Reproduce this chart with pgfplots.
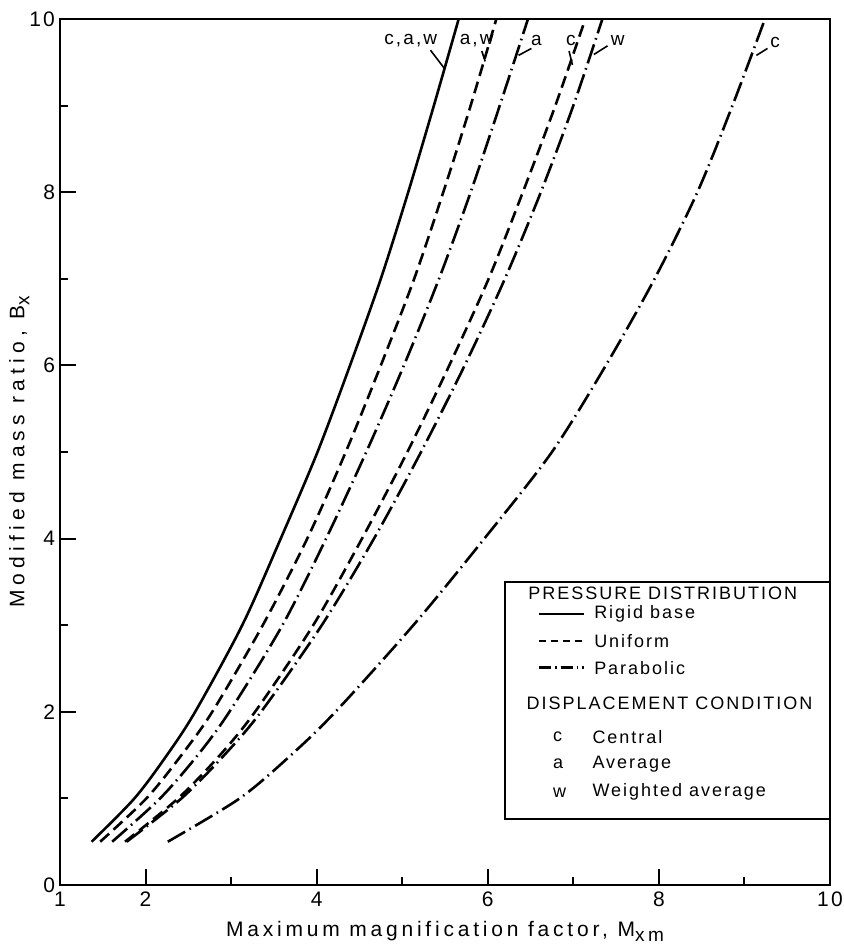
\documentclass[border=0pt]{standalone}
\usepackage{fontspec}
\setmainfont[LetterSpace=11]{Liberation Sans}
\newfontfamily\xlabfont[LetterSpace=18]{Liberation Sans}
\newfontfamily\ylabfont[LetterSpace=25]{Liberation Sans}
\usepackage{pgfplots}
\pgfplotsset{compat=1.18}

\pgfplotstableread{
x y
1.37 0.5
1.87 1
2.25 1.5
2.58 2
3.13 3
3.58 4
4.01 5
4.39 6
4.75 7
5.07 8
5.37 9
5.66 10
}\rigid
\pgfplotstableread{
x y
1.47 0.5
2.01 1
2.42 1.5
2.78 2
3.37 3
3.89 4
4.34 5
4.75 6
5.14 7
5.48 8
5.80 9
6.10 10
}\uniaw
\pgfplotstableread{
x y
1.61 0.5
2.17 1
2.61 1.5
2.98 2
3.60 3
4.11 4
4.58 5
5.02 6
5.43 7
5.80 8
6.14 9
6.47 10
}\paraa
\pgfplotstableread{
x y
1.76 0.5
2.38 1
2.87 1.5
3.28 2
3.96 3
4.53 4
5.06 5
5.55 6
6.01 7
6.41 8
6.79 9
7.14 10
}\unic
\pgfplotstableread{
x y
1.78 0.5
2.42 1
2.92 1.5
3.35 2
4.06 3
4.67 4
5.22 5
5.73 6
6.20 7
6.62 8
7.00 9
7.34 10
}\paraw
\pgfplotstableread{
x y
2.26 0.5
3.10 1
3.70 1.5
4.22 2
5.13 3
5.96 4
6.75 5
7.38 6
7.95 7
8.45 8
8.86 9
9.24 10
}\parac

\tikzset{
  rigidst/.style={black, line width=1.3pt},
  unist/.style={black, line width=1.3pt, dash pattern=on 6pt off 3pt},
  parast/.style={black, line width=1.3pt, dash pattern=on 10pt off 2.5pt on 0.8pt off 2.5pt},
}

\begin{document}
\begin{tikzpicture}
\useasboundingbox (-30pt,-29.5pt) rectangle (391.5pt,442.5pt);
\begin{axis}[
  scale only axis, width=385pt, height=433pt,
  xmin=1, xmax=10, ymin=0, ymax=10,
  xtick={1,2,4,6,8,10}, minor xtick={3,5,7,9},
  ytick={0,2,4,6,8,10}, minor ytick={1,3,5,7,9},
  xtick pos=bottom, ytick pos=left,
  tick align=inside,
  major tick length=8pt, minor tick length=4pt,
  tick style={black, line width=1pt},
  axis line style={line width=1.4pt},
  tick label style={font=\fontsize{10.5}{11}\selectfont},
  yticklabel style={xshift=1pt},
  /pgf/number format/assume math mode=true,
  xlabel={\xlabfont Maximum magnification factor, M\raisebox{-0.45ex}{\fontsize{9.5}{10}\selectfont xm}},
  ylabel={\ylabfont Modified mass ratio, B\raisebox{-0.45ex}{\fontsize{9.5}{10}\selectfont x}},
  xlabel style={font=\fontsize{10.5}{11}\selectfont, at={(axis description cs:0.5,-0.054)}, anchor=center},
  ylabel style={font=\fontsize{10.5}{11}\selectfont, at={(axis description cs:-0.053,0.5)}, anchor=center},
  clip=false,
]
\addplot[rigidst, smooth] table[x=x,y=y] {\rigid};
\addplot[unist, smooth] table[x=x,y=y] {\uniaw};
\addplot[parast, smooth] table[x=x,y=y] {\paraa};
\addplot[unist, smooth] table[x=x,y=y] {\unic};
\addplot[parast, smooth] table[x=x,y=y] {\paraw};
\addplot[parast, smooth] table[x=x,y=y] {\parac};

% curve labels
\begin{scope}[every node/.style={font=\fontsize{9.5}{10}\selectfont, inner sep=0pt}]
\node at (axis cs:5.10,9.75) {c,a,w};
\draw[line width=0.8pt] (axis cs:5.33,9.64) -- (axis cs:5.50,9.42);
\node at (axis cs:5.87,9.75) {a,w};
\draw[line width=0.8pt] (axis cs:5.93,9.63) -- (axis cs:5.97,9.51);
\node at (axis cs:6.57,9.75) {a};
\draw[line width=0.8pt] (axis cs:6.51,9.66) -- (axis cs:6.36,9.58);
\node at (axis cs:6.97,9.75) {c};
\draw[line width=0.8pt] (axis cs:6.95,9.63) -- (axis cs:6.99,9.47);
\node at (axis cs:7.52,9.75) {w};
\draw[line width=0.8pt] (axis cs:7.40,9.69) -- (axis cs:7.24,9.59);
\node at (axis cs:9.36,9.73) {c};
\draw[line width=0.8pt] (axis cs:9.27,9.66) -- (axis cs:9.14,9.58);
\end{scope}

% legend box
\draw[line width=1.2pt] (axis cs:6.2,0.76) rectangle (axis cs:10,3.5);
\begin{scope}[every node/.style={font=\fontsize{9}{10}\selectfont, anchor=west, inner sep=0pt}]
\node at (axis cs:6.47,3.37) {PRESSURE DISTRIBUTION};
\draw[rigidst] (axis cs:6.60,3.13) -- (axis cs:7.12,3.13);
\node at (axis cs:7.24,3.13) {Rigid base};
\draw[black, line width=1.2pt, dash pattern=on 3.5pt off 2.5pt] (axis cs:6.60,2.82) -- (axis cs:7.12,2.82);
\node at (axis cs:7.24,2.82) {Uniform};
\draw[black, line width=1.2pt, dash pattern=on 6pt off 2pt on 0.8pt off 2pt] (axis cs:6.60,2.51) -- (axis cs:7.12,2.51);
\node at (axis cs:7.24,2.51) {Parabolic};
\node at (axis cs:6.45,2.10) {DISPLACEMENT CONDITION};
\node at (axis cs:6.76,1.71) {c};
\node at (axis cs:7.22,1.71) {Central};
\node at (axis cs:6.76,1.40) {a};
\node at (axis cs:7.22,1.40) {Average};
\node at (axis cs:6.76,1.07) {w};
\node at (axis cs:7.22,1.07) {Weighted average};
\end{scope}
\end{axis}
\end{tikzpicture}
\end{document}
